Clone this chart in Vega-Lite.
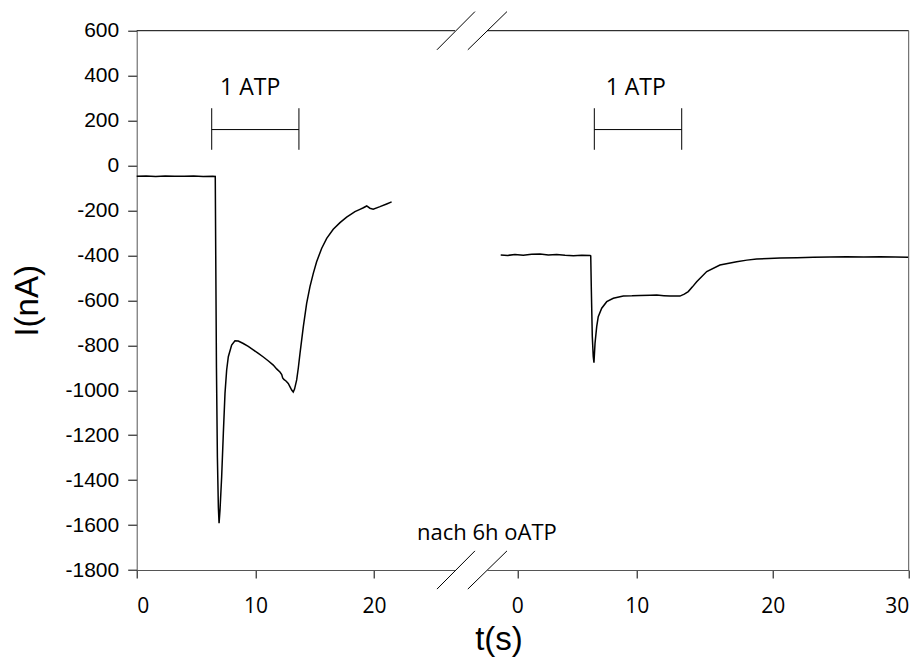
{
  "$schema": "https://vega.github.io/schema/vega-lite/v6.json",
  "width": 772,
  "height": 539.3,
  "autosize": {"type": "none"},
  "padding": {"left": 136.7, "top": 30.7, "right": 13.3, "bottom": 92},
  "background": "white",
  "config": {
    "view": {"stroke": null},
    "axis": {
      "grid": false,
      "domainColor": "#555",
      "domainWidth": 1,
      "tickColor": "black",
      "tickWidth": 1,
      "labelColor": "black",
      "titleColor": "black",
      "titleFont": "Liberation Sans",
      "titleFontSize": 33,
      "titleFontWeight": "normal"
    }
  },
  "datasets": {
    "before": [
      {"t": 0, "i": -48}, {"t": 0.8, "i": -47}, {"t": 1.6, "i": -49}, {"t": 2.4, "i": -47},
      {"t": 3.2, "i": -48}, {"t": 4.0, "i": -48}, {"t": 4.8, "i": -47}, {"t": 5.6, "i": -49},
      {"t": 6.4, "i": -48}, {"t": 6.62, "i": -49}, {"t": 6.66, "i": -400}, {"t": 6.72, "i": -900},
      {"t": 6.8, "i": -1300}, {"t": 6.88, "i": -1520}, {"t": 6.94, "i": -1592}, {"t": 7.02, "i": -1533},
      {"t": 7.16, "i": -1384}, {"t": 7.3, "i": -1192}, {"t": 7.44, "i": -1014}, {"t": 7.58, "i": -910},
      {"t": 7.72, "i": -851}, {"t": 8.0, "i": -799}, {"t": 8.28, "i": -780}, {"t": 8.56, "i": -781},
      {"t": 8.98, "i": -792}, {"t": 9.4, "i": -805}, {"t": 9.82, "i": -820}, {"t": 10.25, "i": -836},
      {"t": 10.67, "i": -852}, {"t": 11.1, "i": -870}, {"t": 11.51, "i": -888}, {"t": 11.79, "i": -905},
      {"t": 12.07, "i": -919}, {"t": 12.22, "i": -930}, {"t": 12.3, "i": -945}, {"t": 12.4, "i": -952},
      {"t": 12.6, "i": -960}, {"t": 12.77, "i": -970}, {"t": 12.92, "i": -985}, {"t": 13.06, "i": -999},
      {"t": 13.19, "i": -1008}, {"t": 13.3, "i": -995}, {"t": 13.48, "i": -954}, {"t": 13.62, "i": -900},
      {"t": 13.76, "i": -836}, {"t": 14.04, "i": -717}, {"t": 14.32, "i": -613}, {"t": 14.6, "i": -539},
      {"t": 14.88, "i": -480}, {"t": 15.16, "i": -428}, {"t": 15.59, "i": -368}, {"t": 16.01, "i": -324},
      {"t": 16.56, "i": -284}, {"t": 17.13, "i": -254}, {"t": 17.69, "i": -230}, {"t": 18.39, "i": -205},
      {"t": 18.81, "i": -195}, {"t": 19.1, "i": -188}, {"t": 19.38, "i": -180}, {"t": 19.65, "i": -190},
      {"t": 19.93, "i": -194}, {"t": 20.5, "i": -183}, {"t": 21.06, "i": -171}, {"t": 21.48, "i": -162}
    ],
    "after": [
      {"t": -1.39, "i": -398}, {"t": -0.8, "i": -400}, {"t": -0.2, "i": -396}, {"t": 0.5, "i": -399},
      {"t": 1.2, "i": -395}, {"t": 1.9, "i": -394}, {"t": 2.6, "i": -398}, {"t": 3.3, "i": -396},
      {"t": 4.0, "i": -399}, {"t": 4.7, "i": -401}, {"t": 5.4, "i": -399}, {"t": 6.1, "i": -400},
      {"t": 6.15, "i": -402}, {"t": 6.2, "i": -550}, {"t": 6.28, "i": -760}, {"t": 6.36, "i": -850},
      {"t": 6.42, "i": -877}, {"t": 6.51, "i": -791}, {"t": 6.65, "i": -717}, {"t": 6.78, "i": -673},
      {"t": 7.07, "i": -635}, {"t": 7.49, "i": -606}, {"t": 8.04, "i": -591}, {"t": 8.88, "i": -581},
      {"t": 9.6, "i": -580}, {"t": 10.24, "i": -578}, {"t": 11.0, "i": -577}, {"t": 11.47, "i": -576},
      {"t": 12.0, "i": -579}, {"t": 12.45, "i": -581}, {"t": 13.18, "i": -581}, {"t": 13.5, "i": -572},
      {"t": 13.79, "i": -561}, {"t": 14.1, "i": -540}, {"t": 14.41, "i": -517}, {"t": 15.15, "i": -472},
      {"t": 16.12, "i": -443}, {"t": 17.35, "i": -428}, {"t": 18.1, "i": -421}, {"t": 18.82, "i": -416},
      {"t": 19.7, "i": -414}, {"t": 20.54, "i": -411}, {"t": 21.8, "i": -410}, {"t": 22.99, "i": -408},
      {"t": 24.2, "i": -407}, {"t": 25.44, "i": -406}, {"t": 26.7, "i": -407}, {"t": 27.9, "i": -406},
      {"t": 29.0, "i": -407}, {"t": 29.97, "i": -408}
    ],
    "leftGuides": [
      {"t": 6.32, "i": 70, "t2": 6.32, "i2": 255},
      {"t": 13.67, "i": 70, "t2": 13.67, "i2": 255},
      {"t": 6.32, "i": 160, "t2": 13.67, "i2": 160},
      {"t": 0, "i": 600, "t2": 26.82, "i2": 600},
      {"t": 25.3, "i": 515, "t2": 28.5, "i2": 685},
      {"t": 27.9, "i": 515, "t2": 31.2, "i2": 685},
      {"t": 25.3, "i": -1885, "t2": 28.5, "i2": -1715},
      {"t": 27.9, "i": -1885, "t2": 31.2, "i2": -1715}
    ],
    "rightGuides": [
      {"t": 6.45, "i": 70, "t2": 6.45, "i2": 255},
      {"t": 13.31, "i": 70, "t2": 13.31, "i2": 255},
      {"t": 6.45, "i": 160, "t2": 13.31, "i2": 160},
      {"t": -2.54, "i": 600, "t2": 30, "i2": 600}
    ],
    "rightEdge": [
      {"t": 30, "i": -1800, "t2": 30, "i2": 600}
    ],
    "leftStim": [{"t": 9.56, "i": 314, "label": "1 ATP"}],
    "rightStim": [{"t": 9.92, "i": 314, "label": "1 ATP"}],
    "note": [{"t": 29.51, "i": -1666, "label": "nach 6h oATP"}]
  },
  "layer": [
    {
      "encoding": {
        "x": {
          "field": "t",
          "type": "quantitative",
          "scale": {"domain": [0, 26.82], "range": [0, 318.3], "nice": false, "zero": false},
          "axis": {
            "orient": "bottom",
            "values": [0, 10, 20],
            "tickSize": 8,
            "labelFont": "Open Sans",
            "labelFontSize": 21,
            "labelPadding": 17,
            "title": "t(s)",
            "titleX": 361.8,
            "titleY": 79,
            "titleAngle": 0,
            "titleAlign": "center",
            "titleBaseline": "alphabetic"
          }
        },
        "y": {
          "field": "i",
          "type": "quantitative",
          "scale": {"domain": [-1800, 600], "nice": false, "zero": false},
          "axis": {
            "orient": "left",
            "values": [-1800, -1600, -1400, -1200, -1000, -800, -600, -400, -200, 0, 200, 400, 600],
            "labelExpr": "'' + datum.value",
            "tickSize": 9,
            "labelFont": "Liberation Sans",
            "labelFontSize": 21,
            "labelPadding": 9,
            "title": "I(nA)",
            "titleX": -99.1,
            "titleY": 269.6,
            "titleAngle": -90,
            "titleAlign": "center",
            "titleBaseline": "alphabetic"
          }
        }
      },
      "layer": [
        {"data": {"name": "before"}, "mark": {"type": "line", "color": "black", "strokeWidth": 1.5}},
        {
          "data": {"name": "leftGuides"},
          "mark": {"type": "rule", "color": "black", "strokeWidth": 1},
          "encoding": {"x2": {"field": "t2"}, "y2": {"field": "i2"}}
        },
        {
          "data": {"name": "leftStim"},
          "mark": {"type": "text", "font": "Open Sans", "fontSize": 23, "align": "center", "baseline": "alphabetic", "color": "black"},
          "encoding": {"text": {"field": "label"}}
        },
        {
          "data": {"name": "note"},
          "mark": {"type": "text", "font": "Open Sans", "fontSize": 22, "align": "center", "baseline": "alphabetic", "color": "black"},
          "encoding": {"text": {"field": "label"}}
        }
      ]
    },
    {
      "encoding": {
        "x": {
          "field": "t",
          "type": "quantitative",
          "scale": {"domain": [-2.54, 0, 10, 30], "range": [350.3, 380.6, 500, 772], "nice": false, "zero": false},
          "axis": {
            "orient": "bottom",
            "values": [0, 10, 20, 30],
            "tickSize": 8,
            "labelFont": "Open Sans",
            "labelFontSize": 21,
            "labelPadding": 17,
            "title": null
          }
        },
        "y": {
          "field": "i",
          "type": "quantitative",
          "scale": {"domain": [-1800, 600], "nice": false, "zero": false},
          "axis": null
        }
      },
      "layer": [
        {"data": {"name": "after"}, "mark": {"type": "line", "color": "black", "strokeWidth": 1.5}},
        {
          "data": {"name": "rightGuides"},
          "mark": {"type": "rule", "color": "black", "strokeWidth": 1},
          "encoding": {"x2": {"field": "t2"}, "y2": {"field": "i2"}}
        },
        {
          "data": {"name": "rightEdge"},
          "mark": {"type": "rule", "color": "#555", "strokeWidth": 1},
          "encoding": {"x2": {"field": "t2"}, "y2": {"field": "i2"}}
        },
        {
          "data": {"name": "rightStim"},
          "mark": {"type": "text", "font": "Open Sans", "fontSize": 23, "align": "center", "baseline": "alphabetic", "color": "black"},
          "encoding": {"text": {"field": "label"}}
        }
      ]
    }
  ],
  "resolve": {"scale": {"x": "independent"}, "axis": {"y": "independent"}}
}
